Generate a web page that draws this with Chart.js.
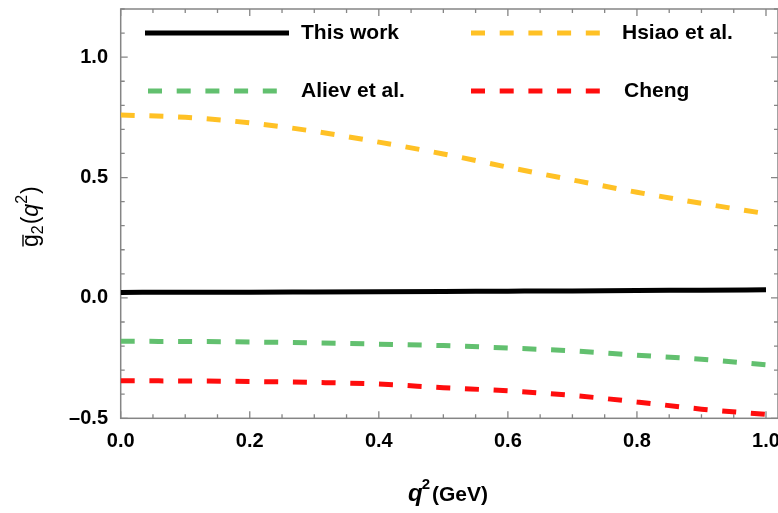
<!DOCTYPE html>
<html>
<head>
<meta charset="utf-8">
<script src="https://cdn.jsdelivr.net/npm/chart.js@4/dist/chart.umd.min.js"></script>
<style>
  html, body { margin: 0; padding: 0; background: #fff; }
  #wrap { width: 778px; height: 513px; position: relative; }
</style>
</head>
<body>
<div id="wrap"><canvas id="c" width="778" height="513"></canvas></div>
<script>
// q^2 grid (GeV) and the form factor g2(q^2) from each calculation
const q2       = [0.0, 0.1, 0.2, 0.3, 0.4, 0.5, 0.6, 0.7, 0.8, 0.9, 1.0];
const thisWork = [0.023, 0.024, 0.024, 0.025, 0.026, 0.027, 0.028, 0.029, 0.031, 0.032, 0.034];
const hsiao    = [0.760, 0.750, 0.727, 0.692, 0.647, 0.598, 0.543, 0.490, 0.439, 0.393, 0.350];
const aliev    = [-0.180, -0.181, -0.183, -0.187, -0.192, -0.198, -0.208, -0.220, -0.238, -0.255, -0.278];
const cheng    = [-0.344, -0.345, -0.347, -0.351, -0.358, -0.373, -0.386, -0.405, -0.432, -0.462, -0.484];

const seriesNames = ['This work', 'Hsiao et al.', 'Aliev et al.', 'Cheng'];

// axis ticks
const xTicks = [0.0, 0.2, 0.4, 0.6, 0.8, 1.0];
const yTicks = [-0.5, 0.0, 0.5, 1.0];
const xMinorStep = 0.05;
const yMinorStep = 0.1;

const FONT = '"Liberation Sans", Arial, sans-serif';
const FRAME = '#858585';

const toPts = ys => q2.map((x, i) => ({ x: x, y: ys[i] }));

function lineSet(label, ys, color, dash) {
  return {
    label: label,
    data: toPts(ys),
    borderColor: color,
    backgroundColor: color,
    borderWidth: 5,
    borderDash: dash,
    borderCapStyle: 'butt',
    pointRadius: 0,
    fill: false,
    cubicInterpolationMode: 'monotone'
  };
}

// box frame with inward ticks on all four sides
const framePlugin = {
  id: 'frame',
  beforeDatasetsDraw(chart) {
    const { ctx, chartArea: a, scales: { x, y } } = chart;
    ctx.save();
    ctx.strokeStyle = FRAME;
    ctx.lineWidth = 1.5;
    ctx.strokeRect(a.left, a.top, a.right - a.left, a.bottom - a.top);
    ctx.lineWidth = 1.3;
    const eps = 1e-9;
    // x ticks (bottom + top)
    for (let v = x.min; v <= x.max + eps; v += xMinorStep) {
      const r = Math.round(v * 100) / 100;
      const major = xTicks.some(t => Math.abs(t - r) < 1e-6);
      const len = major ? 7 : 4;
      const px = x.getPixelForValue(r);
      ctx.beginPath();
      ctx.moveTo(px, a.bottom); ctx.lineTo(px, a.bottom - len);
      ctx.moveTo(px, a.top); ctx.lineTo(px, a.top + len);
      ctx.stroke();
    }
    // y ticks (left + right)
    for (let v = y.min; v <= y.max + eps; v += yMinorStep) {
      const r = Math.round(v * 100) / 100;
      const major = yTicks.some(t => Math.abs(t - r) < 1e-6);
      const len = major ? 7 : 4;
      const py = y.getPixelForValue(r);
      ctx.beginPath();
      ctx.moveTo(a.left, py); ctx.lineTo(a.left + len, py);
      ctx.moveTo(a.right, py); ctx.lineTo(a.right - len, py);
      ctx.stroke();
    }
    ctx.restore();
  }
};

// legend inside the plot, two columns
const legendPlugin = {
  id: 'inlineLegend',
  afterDatasetsDraw(chart) {
    const { ctx } = chart;
    const slots = [
      { i: 0, x0: 145, x1: 289, y: 33, tx: 301 },
      { i: 1, x0: 471, x1: 601, y: 33, tx: 622 },
      { i: 2, x0: 148, x1: 278, y: 91, tx: 301 },
      { i: 3, x0: 471, x1: 601, y: 91, tx: 624 }
    ];
    ctx.save();
    slots.forEach(s => {
      const ds = chart.data.datasets[s.i];
      ctx.strokeStyle = ds.borderColor;
      ctx.lineWidth = ds.borderWidth;
      ctx.lineCap = 'butt';
      ctx.setLineDash(ds.borderDash || []);
      ctx.lineDashOffset = 0;
      ctx.beginPath();
      ctx.moveTo(s.x0, s.y);
      ctx.lineTo(s.x1, s.y);
      ctx.stroke();
      ctx.setLineDash([]);
      ctx.fillStyle = '#000';
      ctx.font = 'bold 21px ' + FONT;
      ctx.textBaseline = 'middle';
      ctx.textAlign = 'left';
      ctx.fillText(ds.label, s.tx, s.y);
    });
    ctx.restore();
  }
};

// axis titles with sub/superscripts
const titlePlugin = {
  id: 'axisTitles',
  afterDraw(chart) {
    const { ctx } = chart;
    ctx.save();
    ctx.fillStyle = '#000';
    ctx.textBaseline = 'alphabetic';
    ctx.textAlign = 'left';

    // x title: q^2 (GeV)
    let cx = 408;
    const base = 501;
    ctx.font = 'italic bold 24px ' + FONT;
    ctx.fillText('q', cx, base);
    cx += ctx.measureText('q').width;
    ctx.font = 'bold 15px ' + FONT;
    ctx.fillText('2', cx - 1, base - 12);
    cx += ctx.measureText('2').width + 1;
    ctx.font = 'bold 21px ' + FONT;
    ctx.fillText('(GeV)', cx, base);

    // y title: g-bar_2 (q^2), rotated
    ctx.translate(37.5, 247);
    ctx.rotate(-Math.PI / 2);
    let p = 0;
    ctx.font = '23px ' + FONT;
    const gw = ctx.measureText('g').width;
    ctx.fillText('g', p, 0);
    ctx.strokeStyle = '#000';
    ctx.lineWidth = 1.4;
    ctx.beginPath();
    ctx.moveTo(p + 0.5, -14.5);
    ctx.lineTo(p + gw - 0.5, -14.5);
    ctx.stroke();
    p += gw;
    ctx.font = '16px ' + FONT;
    ctx.fillText('2', p, 5);
    p += ctx.measureText('2').width + 1;
    ctx.font = '23px ' + FONT;
    ctx.fillText('(', p, 0);
    p += ctx.measureText('(').width;
    ctx.font = 'italic 23px ' + FONT;
    ctx.fillText('q', p, 0);
    p += ctx.measureText('q').width;
    ctx.font = '16px ' + FONT;
    ctx.fillText('2', p, -11);
    p += ctx.measureText('2').width + 1;
    ctx.font = '23px ' + FONT;
    ctx.fillText(')', p, 0);
    ctx.restore();
  }
};

const fmt = v => (v < 0 ? '\u2013' : '') + Math.abs(v).toFixed(1);

// fixed axis boxes so the plot frame sits at a set place
const noPad = s => { s.paddingLeft = 0; s.paddingRight = 0; s.paddingTop = 0; s.paddingBottom = 0; };

new Chart(document.getElementById('c'), {
  type: 'line',
  data: {
    datasets: [
      lineSet(seriesNames[0], thisWork, '#000000', []),
      lineSet(seriesNames[1], hsiao, '#ffc125', [14, 14.7]),
      lineSet(seriesNames[2], aliev, '#62c06f', [14, 14.7]),
      lineSet(seriesNames[3], cheng, '#ff0d0d', [14, 14.7])
    ]
  },
  options: {
    responsive: false,
    animation: false,
    devicePixelRatio: 1,
    layout: { padding: { top: 9, right: 0, left: 0, bottom: 0 } },
    plugins: {
      legend: { display: false },
      tooltip: { enabled: false }
    },
    scales: {
      x: {
        type: 'linear',
        min: 0,
        max: 1.0186,
        grid: { display: false, drawTicks: false },
        border: { display: false },
        afterBuildTicks: s => { s.ticks = xTicks.map(v => ({ value: v })); },
        afterFit: s => { s.height = 94.7; noPad(s); },
        ticks: {
          padding: 11,
          color: '#000',
          font: { family: FONT, size: 20, weight: 'bold' },
          maxRotation: 0,
          autoSkip: false,
          callback: fmt
        }
      },
      y: {
        type: 'linear',
        min: -0.5,
        max: 1.2,
        grid: { display: false, drawTicks: false },
        border: { display: false },
        afterBuildTicks: s => { s.ticks = yTicks.map(v => ({ value: v })); },
        afterFit: s => { s.width = 120.7; noPad(s); },
        ticks: {
          padding: 12.7,
          color: '#000',
          font: { family: FONT, size: 20, weight: 'bold' },
          autoSkip: false,
          callback: fmt
        }
      }
    }
  },
  plugins: [framePlugin, legendPlugin, titlePlugin]
});
</script>
</body>
</html>
